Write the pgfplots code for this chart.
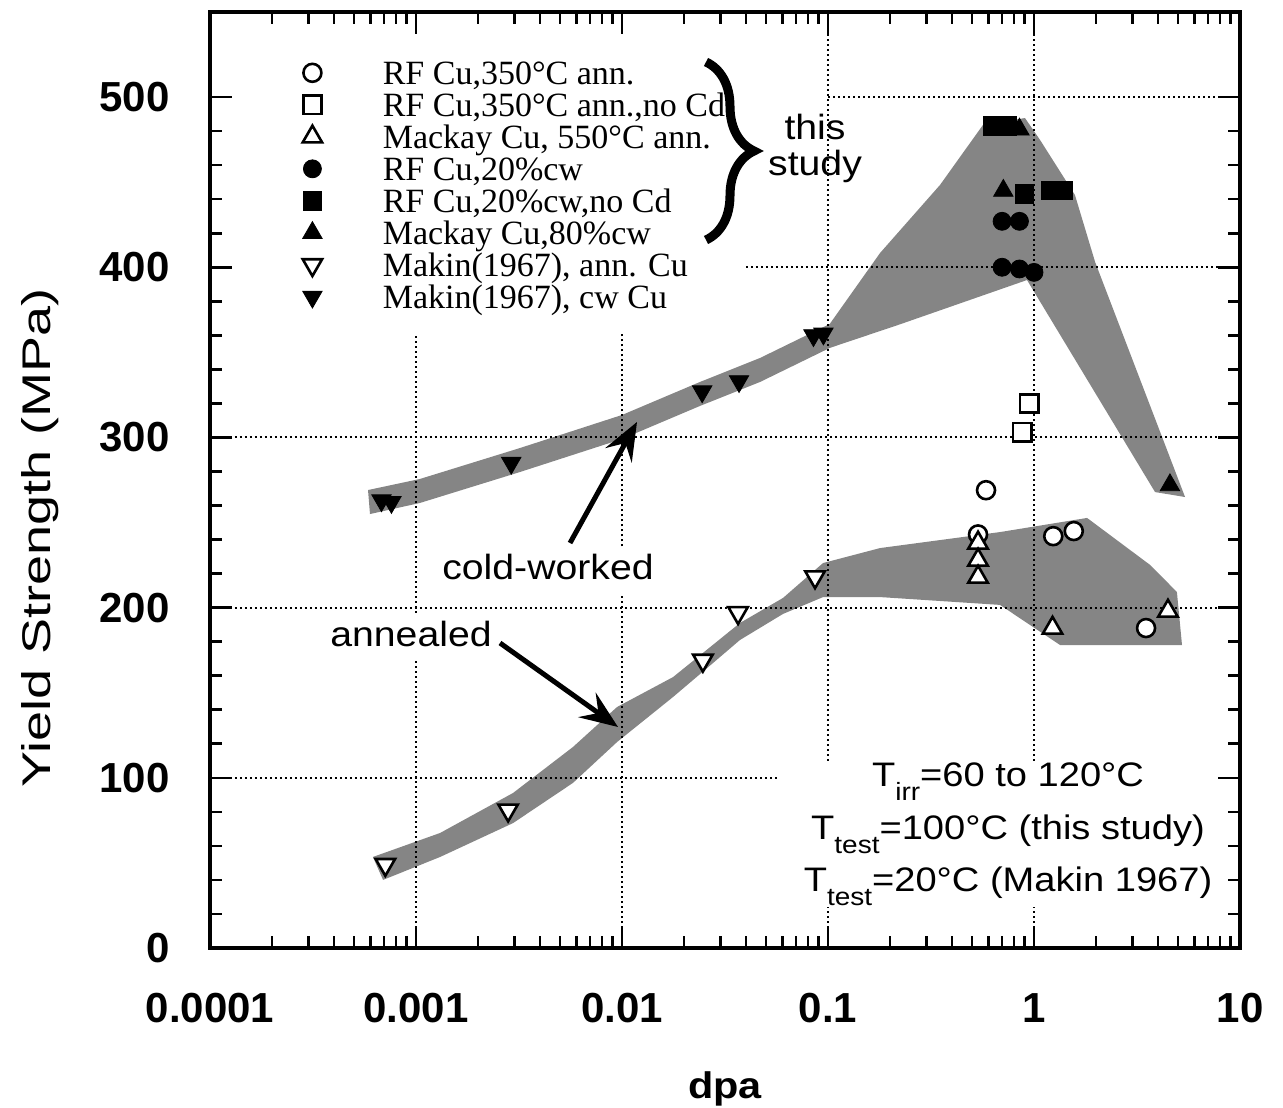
\documentclass[border=0pt]{standalone}
\usepackage{pgfplots}
\pgfplotsset{compat=1.18}
\usepackage{fontspec}
\setmainfont{Liberation Serif}
\newfontfamily\annfont{Liberation Sans}[FakeStretch=1.12]
\newfontfamily\ylabfont{Liberation Sans}[FakeStretch=1.35]
\newfontfamily\tickfont{Liberation Sans}
\usetikzlibrary{arrows.meta,decorations.pathreplacing}
\pgfplotsset{
  mylegimg/.style={legend image code/.code={\draw[##1] plot coordinates {(0pt,0pt)}; \path (-6pt,0pt) (35pt,0pt);}},
}
\tikzset{gridl/.style={black, line width=1pt, dash pattern=on 1pt off 1.5pt},
         tk/.style={black, line width=1.3pt}}
\newcommand{\sub}[1]{\raisebox{-7pt}{\fontsize{12.5}{12.5}\selectfont #1}}
\begin{document}
\begin{tikzpicture}
\path[use as bounding box] (0,0) rectangle (641.5pt,553.5pt);
\begin{axis}[
  at={(105pt,79.5pt)}, anchor=south west,
  width=515pt, height=468pt, scale only axis,
  xmode=log, xmin=1e-4, xmax=10, ymin=0, ymax=550,
  xtick={1e-4,1e-3,1e-2,1e-1,1,10},
  xticklabels={0.0001,0.001,0.01,0.1,1,10},
  ytick={0,100,200,300,400,500},
  yticklabels={0,100,200,300,400,500},
  minor y tick num=4,
  xtick pos=both, ytick pos=both,
  tick align=inside,
  major tick length=11pt, minor tick length=6pt,
  tick style={draw=black, line width=1.3pt},
  axis line style={line width=1.6pt},
  xticklabel style={font=\tickfont\bfseries\fontsize{21}{21}\selectfont, anchor=base, inner sep=0pt, yshift=-37pt},
  yticklabel style={font=\tickfont\bfseries\fontsize{21}{21}\selectfont, anchor=east, inner sep=0pt, xshift=-20pt},
  xlabel={dpa},
  xlabel style={at={(axis description cs:0.5,-0.1603)}, anchor=base, inner sep=0pt, font=\annfont\bfseries\fontsize{18.5}{20}\selectfont},
  ylabel={Yield Strength (MPa)},
  ylabel style={at={(axis description cs:-0.1553,0.438)}, anchor=base, inner sep=0pt, font=\ylabfont\fontsize{20}{22}\selectfont},
  legend cell align=left,
  legend style={at={(rel axis cs:0.0874,0.9521)}, anchor=north west, draw=none, fill=none,
    inner sep=0pt, outer sep=0pt, row sep=0pt, column sep=0pt,
    font=\fontsize{17}{16}\selectfont,
    nodes={inner sep=0pt, text height=13.6pt, text depth=2.4pt}},
]
% shaded bands
\addplot[fill=black!48, draw=none, forget plot] coordinates {
 (5.85e-4,269.1) (1.045e-3,275.6) (3.2e-3,293.8) (0.01,313.2) (0.0239,332.6) (0.0468,346.7)
 (0.102,366.7) (0.179,408.4) (0.35,448.4) (0.565,483.6) (0.904,487.7) (1.07,474.8)
 (1.58,442.5) (1.98,403.1) (5.41,265.0)
 (3.87,267.9) (0.925,392.5) (0.224,366.5) (0.102,352.6) (0.0468,332.6) (0.0239,318.5)
 (0.01,299.1) (3.2e-3,279.7) (1.045e-3,261.5) (5.98e-4,255.0)} -- cycle;
\addplot[fill=black!48, draw=none, forget plot] coordinates {
 (6.18e-4,53.5) (1.31e-3,67.6) (2.96e-3,91.1) (5.78e-3,118.1) (9.46e-3,141.6) (0.0177,159.2)
 (0.0374,191.0) (0.0605,205.7) (0.0946,226.2) (0.179,235.0) (0.684,244.4) (1.81,252.7)
 (3.66,225.1) (4.94,209.2) (5.23,178.0)
 (1.34,178.0) (0.957,189.8) (0.684,201.6) (0.179,206.2) (0.0946,206.2) (0.0605,196.3)
 (0.0374,181.0) (0.0259,164.5) (0.0177,147.5) (9.46e-3,121.0) (5.78e-3,97.0)
 (2.96e-3,73.4) (1.31e-3,53.5) (6.92e-4,40.0)} -- cycle;
% grid segments
\draw[gridl] (axis cs:1e-4,300) -- (axis cs:10,300);
\draw[gridl] (axis cs:1e-4,200) -- (axis cs:10,200);
\draw[gridl] (axis cs:1e-4,100) -- (axis cs:0.0565,100);
\draw[gridl] (axis cs:0.04,400) -- (axis cs:10,400);
\draw[gridl] (axis cs:0.1,500) -- (axis cs:10,500);
\draw[gridl] (axis cs:0.001,0) -- (axis cs:0.001,169);
\draw[gridl] (axis cs:0.001,197) -- (axis cs:0.001,361);
\draw[gridl] (axis cs:0.01,0) -- (axis cs:0.01,208);
\draw[gridl] (axis cs:0.01,236) -- (axis cs:0.01,361);
\draw[gridl] (axis cs:0.1,0) -- (axis cs:0.1,24);
\draw[gridl] (axis cs:0.1,110) -- (axis cs:0.1,550);
\draw[gridl] (axis cs:1,0) -- (axis cs:1,24);
\draw[gridl] (axis cs:1,110) -- (axis cs:1,550);
% markers
\addplot[black, only marks, mark=*, mark size=4.5pt, mark options={fill=white, line width=1.3pt}, mylegimg]
 coordinates {(0.585,269) (0.535,243) (1.24,242) (1.56,245) (3.5,188)};
\addlegendentry{RF Cu,350°C ann.}
\addplot[black, only marks, mark=square*, mark size=4.6pt, mark options={fill=white, line width=1.3pt}, mylegimg]
 coordinates {(0.946,320) (0.875,303)};
\addlegendentry{RF Cu,350°C ann.,no Cd}
\addplot[black, only marks, mark=triangle*, mark size=5.6pt, mark options={fill=white, line width=1.3pt}, mylegimg]
 coordinates {(0.535,238) (0.535,228) (0.535,218) (1.23,188) (4.47,198)};
\addlegendentry{Mackay Cu, 550°C ann.}
\addplot[black, only marks, mark=*, mark size=4.5pt, mark options={fill=black}, mylegimg]
 coordinates {(0.70,427) (0.85,427) (0.70,400) (0.85,399) (1.0,397)};
\addlegendentry{RF Cu,20\%cw}
\addplot[black, only marks, mark=square*, mark size=4.6pt, mark options={fill=black}, mylegimg]
 coordinates {(0.63,483) (0.74,483) (0.9,443) (1.2,445) (1.38,445)};
\addlegendentry{RF Cu,20\%cw,no Cd}
\addplot[black, only marks, mark=triangle*, mark size=5.6pt, mark options={fill=black}, mylegimg]
 coordinates {(0.85,481) (0.71,445) (4.57,272)};
\addlegendentry{Mackay Cu,80\%cw}
\addplot[black, only marks, mark=triangle*, mark size=5.6pt, mark options={fill=white, line width=1.3pt, rotate=180}, mylegimg]
 coordinates {(0.00071,49) (0.0028,81) (0.0247,169) (0.0366,197) (0.0865,218)};
\addlegendentry{Makin(1967), ann. Cu}
\addplot[black, only marks, mark=triangle*, mark size=5.6pt, mark options={fill=black, rotate=180}, mylegimg]
 coordinates {(0.00068,263) (0.00076,262) (0.0029,285) (0.0245,327) (0.037,333) (0.085,360) (0.095,361)};
\addlegendentry{Makin(1967), cw Cu}
\end{axis}
\begin{scope}[x=0.5pt, y=-0.5pt, shift={(0pt,553.5pt)}]
% x-axis tick marks, bottom and top (image pixel positions of the log decades)
\foreach \d in {210,416,622,828,1034}{
  \foreach \o in {62.0,98.3,124.0,144.0,160.3,174.1,186.0,196.6}{
    \draw[tk] ({\d+\o},948) -- ({\d+\o},937);
    \draw[tk] ({\d+\o},12) -- ({\d+\o},23);
  }
}
\foreach \d in {416,622,828,1034}{
  \draw[tk] (\d,948) -- (\d,926);
  \draw[tk] (\d,12) -- (\d,34);
}
\draw[decorate, decoration={brace, amplitude=24pt}, line width=4.5pt] (706,62) -- (706,240);
\node[font=\annfont\fontsize{17.5}{18}\selectfont, anchor=base] at (815,140) {this};
\node[font=\annfont\fontsize{17.5}{18}\selectfont, anchor=base] at (815,176) {study};
\node[font=\annfont\fontsize{17.5}{18}\selectfont, anchor=base] at (548,580) {cold-worked};
\node[font=\annfont\fontsize{17.5}{18}\selectfont, anchor=base] at (411,647) {annealed};
\draw[line width=2.5pt, -{Stealth[length=19pt,width=15pt,inset=7pt]}] (570,543) -- (637,422);
\draw[line width=2.5pt, -{Stealth[length=19pt,width=15pt,inset=7pt]}] (500,643) -- (618,727);
\node[font=\annfont\fontsize{17}{18}\selectfont, anchor=base] at (1008,787) {T\sub{irr}=60 to 120°C};
\node[font=\annfont\fontsize{17}{18}\selectfont, anchor=base] at (1008,840) {T\sub{test}=100°C (this study)};
\node[font=\annfont\fontsize{17}{18}\selectfont, anchor=base] at (1008,892) {T\sub{test}=20°C (Makin 1967)};
\end{scope}
\end{tikzpicture}
\end{document}
